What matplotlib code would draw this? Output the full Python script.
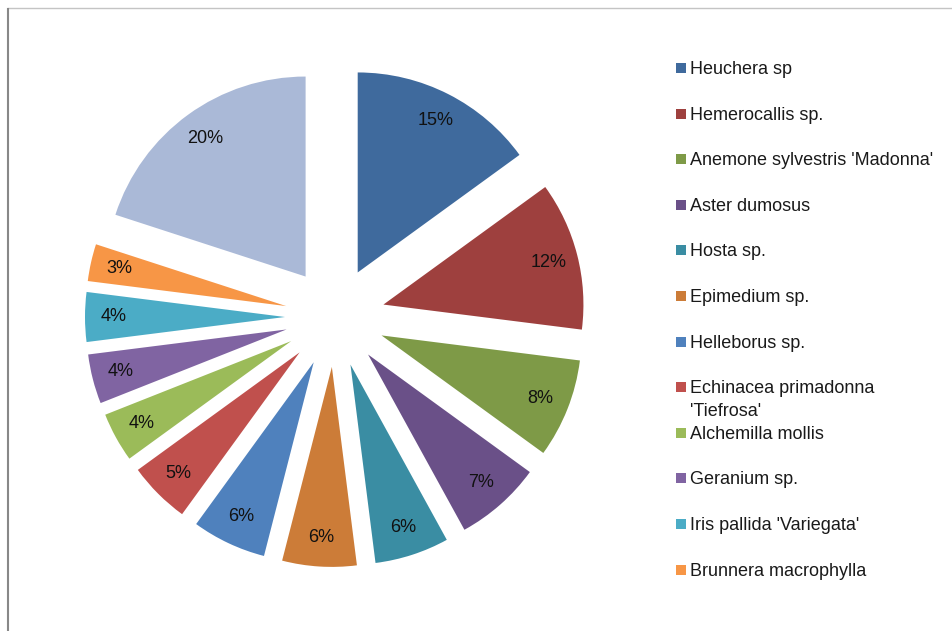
import matplotlib.pyplot as plt
from matplotlib.lines import Line2D
from matplotlib.patches import Rectangle

plants = ['Heuchera sp', 'Hemerocallis sp.', "Anemone sylvestris 'Madonna'",
          'Aster dumosus', 'Hosta sp.', 'Epimedium sp.', 'Helleborus sp.',
          "Echinacea primadonna\n'Tiefrosa'", 'Alchemilla mollis', 'Geranium sp.',
          "Iris pallida 'Variegata'", 'Brunnera macrophylla', '']
shares = [15, 12, 8, 7, 6, 6, 6, 5, 4, 4, 4, 3, 20]
colors = ['#3F6A9D', '#9E403E', '#7E9A47', '#6A5088', '#3A8DA3', '#CC7C38',
          '#4F81BD', '#C0504D', '#9BBB59', '#8064A2', '#4BACC6', '#F79646',
          '#AAB9D7']

W, H = 953, 631
plt.rcParams['font.family'] = ['Liberation Sans', 'DejaVu Sans']

fig = plt.figure(figsize=(W / 100, H / 100), dpi=100)

# pie area: 1 data unit = 200 px, centre at (335, 317) from top-left
ax = fig.add_axes([35 / W, 14 / H, 600 / W, 600 / H])
ax.pie(shares, colors=colors, startangle=90, counterclock=False,
       explode=[0.25] * len(shares), autopct='%1.0f%%', pctdistance=0.855,
       textprops={'fontsize': 13, 'color': '#111111'},
       wedgeprops={'linewidth': 0})
ax.set_xlim(-1.5, 1.5)
ax.set_ylim(-1.5, 1.5)
ax.set_aspect('equal')
ax.axis('off')

# legend drawn by hand so the wrapped entry overflows like the original
row = 0
for name, col in zip(plants, colors):
    if not name:
        continue
    yc = 68 + row * 45.6
    fig.patches.append(Rectangle((676 / W, 1 - (yc + 5) / H), 10 / W, 10 / H,
                                 transform=fig.transFigure, facecolor=col,
                                 edgecolor='none'))
    for k, line in enumerate(name.split('\n')):
        fig.text(690 / W, 1 - (yc + 6 + 23 * k) / H, line, fontsize=13,
                 va='baseline', ha='left', color='#1a1a1a')
    row += 1

# chart frame lines
fig.add_artist(Line2D([8 / W, 1], [1 - 8 / H, 1 - 8 / H], color='#c4c4c4', lw=1))
fig.add_artist(Line2D([8.5 / W, 8.5 / W], [0, 1 - 8.5 / H], color='#888888', lw=1.5))

fig.savefig('out.png', dpi=100)
